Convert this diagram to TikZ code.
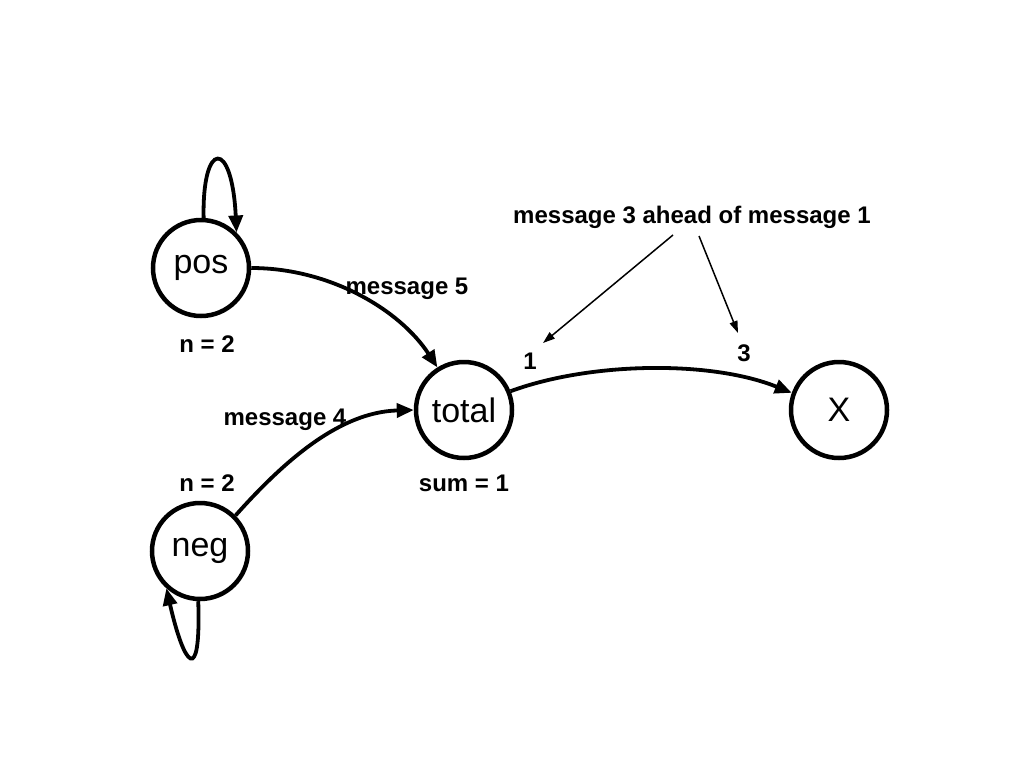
\documentclass[tikz,border=0pt]{standalone}
\usepackage{fontspec}
\setmainfont{Liberation Sans}
\usetikzlibrary{arrows.meta}
\begin{document}
\begin{tikzpicture}[x=1pt,y=-1pt,
  state/.style={circle,draw,line width=4.5pt,minimum size=96pt,inner sep=0pt,font=\fontsize{34}{40}\selectfont},
  lbl/.style={font=\bfseries\fontsize{24}{28}\selectfont,inner sep=0pt},
  edge/.style={line width=3.8pt,-{Triangle[length=17pt,width=14pt]}},
  thin/.style={line width=1.5pt,-{Triangle[length=12pt,width=8pt]}}]
\useasboundingbox[fill=white] (0,0) rectangle (1024,768);
\node[state] (pos) at (201,268) {pos};
\node[state] (neg) at (200,551) {neg};
\node[state] (total) at (464,410) {total};
\node[state] (x) at (839,410) {X};
\node[lbl] (m5) at (407,289) {message 5};
\node[lbl] (m4) at (285,420) {message 4};
\node[lbl] (n1) at (207,344) {n = 2};
\node[lbl] (n2) at (207,483) {n = 2};
\node[lbl] (sum) at (464,483) {sum = 1};
\node[lbl] (one) at (530,361) {1};
\node[lbl] (three) at (744,353) {3};
\node[lbl] (note) at (692,217) {message 3 ahead of message 1};
\coordinate (s1) at (673,235);
\coordinate (e1) at (543,343);
\coordinate (s2) at (699,236);
\coordinate (e2) at (738,333);
\draw[edge] (pos.0) .. controls (330,268) and (400,310) .. (total.122);
\draw[edge] (neg.45) .. controls (285,460) and (340,412) .. (total.180);
\draw[edge] (total.22) .. controls (590,362) and (710,360) .. (x.160);
\draw[edge] (pos.87) .. controls (202,140) and (232,138) .. (pos.45);
\draw[edge] (neg.268) .. controls (201,688) and (184,666) .. (neg.228);
\draw[thin] (s1) -- (e1);
\draw[thin] (s2) -- (e2);
\end{tikzpicture}
\end{document}
